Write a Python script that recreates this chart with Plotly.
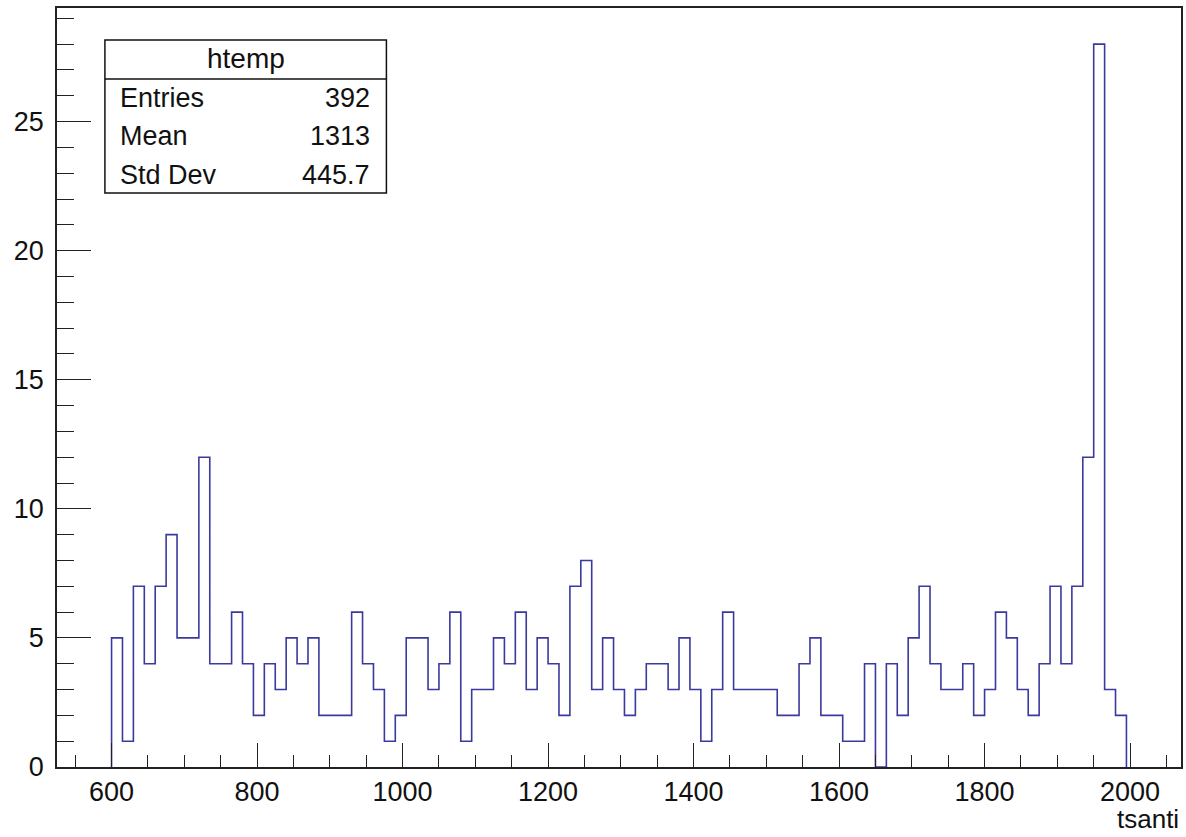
import plotly.graph_objects as go

# Histogram of tsanti: 93 bins of width 15 starting at 600
bin_start = 600
bin_width = 15
counts = [5, 1, 7, 4, 7, 9, 5, 5, 12, 4,
          4, 6, 4, 2, 4, 3, 5, 4, 5, 2,
          2, 2, 6, 4, 3, 1, 2, 5, 5, 3,
          4, 6, 1, 3, 3, 5, 4, 6, 3, 5,
          4, 2, 7, 8, 3, 5, 3, 2, 3, 4,
          4, 3, 5, 3, 1, 3, 6, 3, 3, 3,
          3, 2, 2, 4, 5, 2, 2, 1, 1, 4,
          0, 4, 2, 5, 7, 4, 3, 3, 4, 2,
          3, 6, 5, 3, 2, 4, 7, 4, 7, 12,
          28, 3, 2]

stats_title = "htemp"
stats_labels = ["Entries", "Mean", "Std Dev"]
stats_values = ["392", "1313", "445.7"]
x_title = "tsanti"

edges = [bin_start + i * bin_width for i in range(len(counts) + 1)]

# Step outline: rise from zero at the first edge, fall to zero at the last edge
xs = [edges[0]] + edges[:-1] + [edges[-1]]
ys = [0] + counts + [0]

FONT = "Liberation Sans, Arial, Helvetica, sans-serif"
W, H = 1186, 837
L, R, T, B = 57, 3, 8, 70
pw, ph = W - L - R, H - T - B


def px(x):
    return (x - L) / pw


def py(y):
    return (H - B - y) / ph


fig = go.Figure()
fig.add_trace(go.Scatter(
    x=xs, y=ys, mode="lines", line_shape="hv",
    line=dict(color="#3a3a9e", width=1.6),
    hoverinfo="skip", showlegend=False,
))

axis_common = dict(
    showgrid=False, zeroline=False,
    showline=True, linecolor="#222222", linewidth=1.5, mirror=True,
    ticks="inside", tickcolor="#222222", tickwidth=1,
    tickfont=dict(family=FONT, size=27, color="#111111"),
)

fig.update_xaxes(
    range=[525, 2070], tick0=0, dtick=200, ticklen=24,
    minor=dict(dtick=50, tick0=0, ticks="inside", ticklen=12,
               tickcolor="#222222", tickwidth=1),
    ticklabelstandoff=0,
    **axis_common,
)
fig.update_yaxes(
    range=[0, 29.4], tick0=0, dtick=5, ticklen=34,
    minor=dict(dtick=1, tick0=0, ticks="inside", ticklen=17,
               tickcolor="#222222", tickwidth=1),
    ticklabelstandoff=6,
    **axis_common,
)

# Statistics box
box_l, box_r, box_t, box_b, sep_y = 105, 387, 40, 193, 79
fig.add_shape(type="rect", xref="paper", yref="paper",
              x0=px(box_l), x1=px(box_r), y0=py(box_b), y1=py(box_t),
              line=dict(color="#111111", width=1.5), fillcolor="white", layer="above")
fig.add_shape(type="line", xref="paper", yref="paper",
              x0=px(box_l), x1=px(box_r), y0=py(sep_y), y1=py(sep_y),
              line=dict(color="#111111", width=1.5), layer="above")
fig.add_annotation(text=stats_title, xref="paper", yref="paper",
                   x=px((box_l + box_r) / 2), y=py(59), xanchor="center", yanchor="middle",
                   showarrow=False, font=dict(family=FONT, size=28, color="#111111"))
row_y = [98, 136, 175]
for lab, val, yy in zip(stats_labels, stats_values, row_y):
    fig.add_annotation(text=lab, xref="paper", yref="paper",
                       x=px(118), y=py(yy), xanchor="left", yanchor="middle",
                       showarrow=False, font=dict(family=FONT, size=27, color="#111111"))
    fig.add_annotation(text=val, xref="paper", yref="paper",
                       x=px(373), y=py(yy), xanchor="right", yanchor="middle",
                       showarrow=False, font=dict(family=FONT, size=27, color="#111111"))

fig.add_annotation(text=x_title, xref="paper", yref="paper",
                   x=1.0, y=py(819), xanchor="right", yanchor="middle",
                   showarrow=False, font=dict(family=FONT, size=26, color="#111111"))

fig.update_layout(
    width=W, height=H,
    margin=dict(l=L, r=R, t=T, b=B),
    paper_bgcolor="white", plot_bgcolor="white",
)

fig.write_html("out.html")
